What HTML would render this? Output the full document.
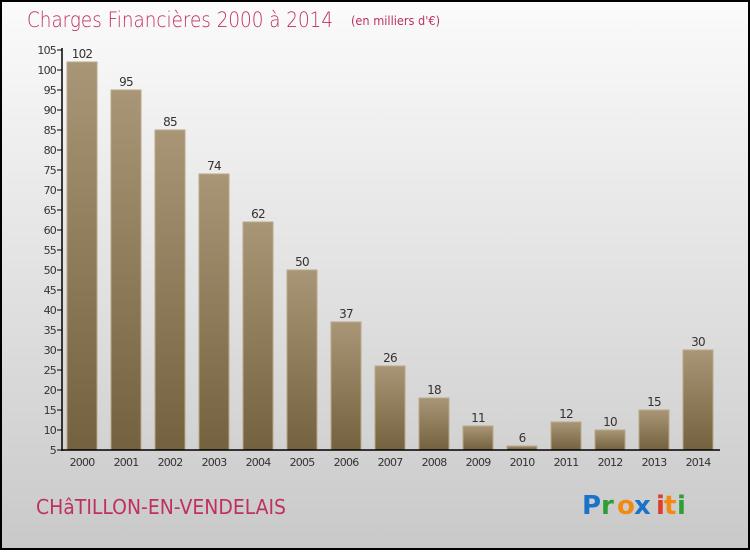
<!DOCTYPE html>
<html><head><meta charset="utf-8"><style>
body{margin:0;width:750px;height:550px;overflow:hidden;font-family:"DejaVu Sans","Liberation Sans",sans-serif}
</style></head><body>
<svg id="c" width="750" height="550" xmlns="http://www.w3.org/2000/svg">
<defs>
<linearGradient id="bg" x1="0" y1="0" x2="0" y2="1"><stop offset="0" stop-color="#fbfbfb"/><stop offset="1" stop-color="#c9c9c9"/></linearGradient>
<linearGradient id="bar" x1="0" y1="0" x2="0" y2="1"><stop offset="0" stop-color="#a99676"/><stop offset="1" stop-color="#73613f"/></linearGradient>
</defs>
<rect x="1" y="1" width="748" height="548" fill="url(#bg)" stroke="#000" stroke-width="2"/>
<text x="27" y="27" font-size="21" fill="#c0305e" font-weight="300" textLength="306" lengthAdjust="spacingAndGlyphs">Charges Financières 2000 à 2014</text>
<text x="351" y="25" font-size="12" fill="#c0305e" textLength="89" lengthAdjust="spacingAndGlyphs">(en milliers d'€)</text>
<g id="plot"></g>
<text x="36" y="514" font-size="20" fill="#c0305e" textLength="250" lengthAdjust="spacingAndGlyphs">CHâTILLON-EN-VENDELAIS</text>
<g font-size="26" font-weight="bold" font-family="'DejaVu Sans',sans-serif">
<text x="582" y="514" fill="#1a73c9">P</text><text x="601" y="514" fill="#2f9e35">r</text><text x="617" y="514" fill="#f08a12">o</text><text x="634" y="514" fill="#1a73c9">x</text><text x="656" y="514" fill="#e23b2a">i</text><text x="664" y="514" fill="#f08a12">t</text><text x="677" y="514" fill="#2f9e35">i</text>
</g>
</svg>
<script>
const categories=["2000","2001","2002","2003","2004","2005","2006","2007","2008","2009","2010","2011","2012","2013","2014"];
const values=[102,95,85,74,62,50,37,26,18,11,6,12,10,15,30];
const yTicks=[5,10,15,20,25,30,35,40,45,50,55,60,65,70,75,80,85,90,95,100,105];
const NS="http://www.w3.org/2000/svg";
const g=document.getElementById('plot');
const y=v=>450-(v-5)*4;
const x=i=>82+i*44;
function mk(t,a,txt){const e=document.createElementNS(NS,t);for(const k in a)e.setAttribute(k,a[k]);if(txt!==undefined)e.textContent=txt;g.appendChild(e);return e;}
yTicks.forEach(v=>{
 const l=mk('line',{x1:57,x2:62,y1:y(v),y2:y(v),stroke:'#000'});
 
 
 const t=mk('text',{x:56,y:y(v)+4,'font-size':11,'text-anchor':'end',fill:'#333','letter-spacing':'-0.8'},v);
 
 
});
categories.forEach((c,i)=>{
 const b=mk('rect',{x:x(i)-15,y:y(values[i]),width:30,height:450-y(values[i]),fill:'url(#bar)',stroke:'#b9a887','stroke-width':1});
 
 
 const v=mk('text',{x:x(i),y:y(values[i])-4,'font-size':12,'text-anchor':'middle',fill:'#333','letter-spacing':'-0.8'},values[i]);
 
 
 const t=mk('text',{x:x(i),y:466,'font-size':11,'text-anchor':'middle',fill:'#333','letter-spacing':'-0.8'},c);
 
 
});
const ya=mk('line',{x1:62,x2:62,y1:48,y2:451,stroke:'#000','stroke-width':1.5});


const xa=mk('line',{x1:62,x2:720,y1:450,y2:450,stroke:'#000','stroke-width':1.5});


</script>
</body></html>
